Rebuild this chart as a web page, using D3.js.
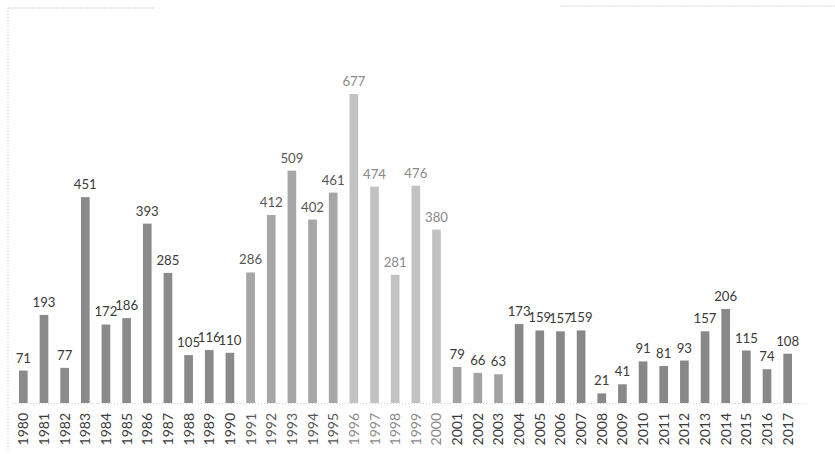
<!DOCTYPE html>
<html>
<head>
<meta charset="utf-8">
<script src="https://cdn.jsdelivr.net/npm/d3@7"></script>
<style>
  body { margin: 0; background: #fff; }
  svg { display: block; }
</style>
</head>
<body>
<svg width="835" height="454"></svg>
<script>
// data
const years = d3.range(1980, 2018).map(String);
const counts = [71, 193, 77, 451, 172, 186, 393, 285, 105, 116, 110,
  286, 412, 509, 402, 461, 677, 474, 281, 476, 380,
  79, 66, 63, 173, 159, 157, 159, 21, 41, 91, 81, 93, 157, 206, 115, 74, 108];

const svg = d3.select("svg"),
    width = +svg.attr("width"),
    height = +svg.attr("height");
const margin = {left: 13, right: 37, top: 20, bottom: 51};
const baseY = height - margin.bottom;

const x = d3.scaleBand()
    .domain(years)
    .range([margin.left, width - margin.right])
    .paddingInner(0.58)
    .paddingOuter(0.29);
const y = d3.scaleLinear()
    .domain([0, 677])
    .range([baseY, baseY - 309]);

function barColor(yr) {
    const n = +yr;
    if (n <= 1990) return "#8a8a8a";
    if (n <= 1995) return "#a6a6a6";
    if (n <= 2000) return "#c2c2c2";
    if (n <= 2003) return "#a2a2a2";
    return "#888888";
}
function labelColor(yr) {
    const n = +yr;
    if (n >= 1996 && n <= 2000) return "#8a8a8a";
    if (n >= 1991 && n <= 1995) return "#555";
    return "#3a3a3a";
}

// faint frame of the scanned chart
svg.append("line")
    .attr("x1", 8).attr("x2", 8).attr("y1", 8).attr("y2", 450)
    .style("stroke", "#cfcfcf").style("stroke-dasharray", "1,2");
svg.append("line")
    .attr("x1", 8).attr("x2", 155).attr("y1", 8).attr("y2", 8)
    .style("stroke", "#d4d4d4").style("stroke-dasharray", "2,1");
svg.append("line")
    .attr("x1", 560).attr("x2", 835).attr("y1", 6).attr("y2", 6)
    .style("stroke", "#d4d4d4").style("stroke-dasharray", "2,1");

// baseline
svg.append("line")
    .attr("x1", 12).attr("x2", width - 30)
    .attr("y1", baseY + 0.5).attr("y2", baseY + 0.5)
    .style("stroke", "#d0d0d0").style("stroke-dasharray", "1,2");

const g = svg.append("g");

g.selectAll("rect")
    .data(years)
    .enter().append("rect")
    .attr("x", d => x(d))
    .attr("width", x.bandwidth())
    .attr("y", (d, i) => y(counts[i]))
    .attr("height", (d, i) => baseY - y(counts[i]))
    .style("fill", d => barColor(d));

g.selectAll("text.val")
    .data(years)
    .enter().append("text")
    .attr("class", "val")
    .attr("x", d => x(d) + x.bandwidth() / 2)
    .attr("y", (d, i) => y(counts[i]) - 8)
    .attr("text-anchor", "middle")
    .style("font-family", "Lato, sans-serif")
    .style("font-size", "13.2px")
    .style("fill", d => labelColor(d))
    .text((d, i) => counts[i]);

// rotated year labels
g.selectAll("text.yr")
    .data(years)
    .enter().append("text")
    .attr("class", "yr")
    .attr("transform", d => `translate(${x(d) + x.bandwidth() / 2 + 5},${baseY + 10}) rotate(-90)`)
    .attr("text-anchor", "end")
    .style("font-family", "Lato, sans-serif")
    .style("font-size", "14px")
    .style("fill", d => labelColor(d))
    .text(d => d);
</script>
</body>
</html>
